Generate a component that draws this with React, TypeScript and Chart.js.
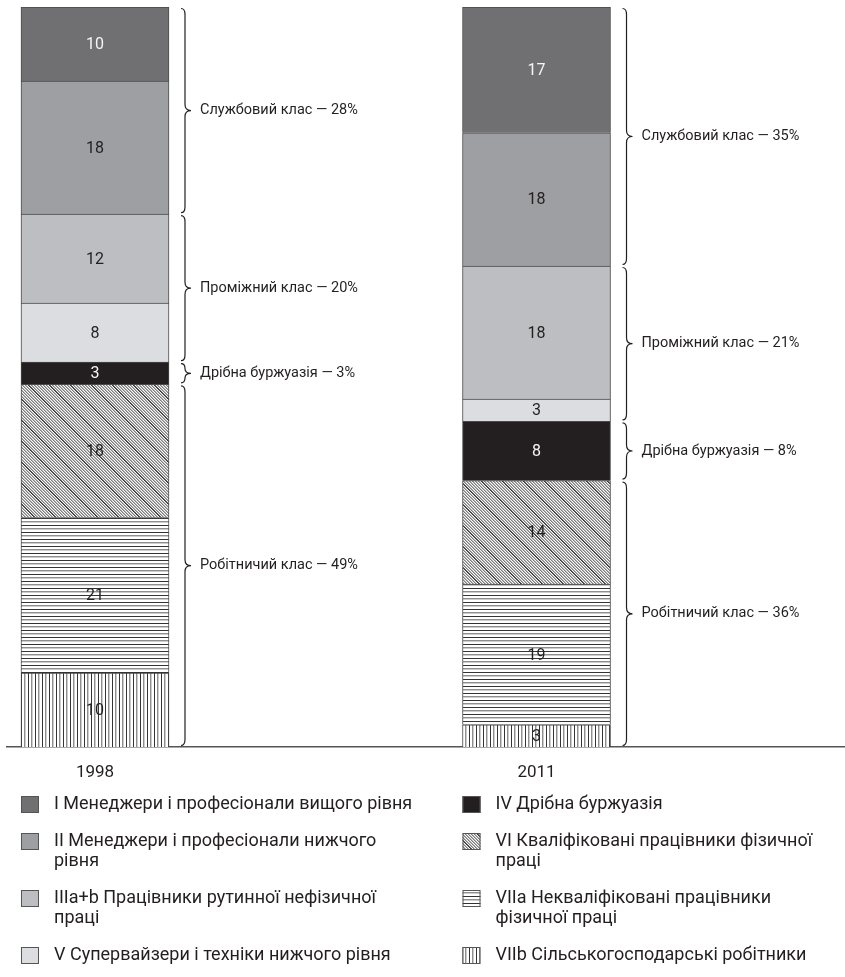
import React, { useEffect, useRef } from 'react';
import { Chart, registerables } from 'chart.js';

Chart.register(...registerables);

const years = ['1998', '2011'];

const seriesNames = [
  'I Менеджери і професіонали вищого рівня',
  'II Менеджери і професіонали нижчого рівня',
  'IIIa+b Працівники рутинної нефізичної праці',
  'V Супервайзери і техніки нижчого рівня',
  'IV Дрібна буржуазія',
  'VI Кваліфіковані працівники фізичної праці',
  'VIIa Некваліфіковані працівники фізичної праці',
  'VIIb Сільськогосподарські робітники',
];

const legendLines = [
  ['I Менеджери і професіонали вищого рівня'],
  ['II Менеджери і професіонали нижчого', 'рівня'],
  ['IIIa+b Працівники рутинної нефізичної', 'праці'],
  ['V Супервайзери і техніки нижчого рівня'],
  ['IV Дрібна буржуазія'],
  ['VI Кваліфіковані працівники фізичної', 'праці'],
  ['VIIa Некваліфіковані працівники', 'фізичної праці'],
  ['VIIb Сільськогосподарські робітники'],
];

const seriesI = [10, 17];
const seriesII = [18, 18];
const seriesIIIab = [12, 18];
const seriesV = [8, 3];
const seriesIV = [3, 8];
const seriesVI = [18, 14];
const seriesVIIa = [21, 19];
const seriesVIIb = [10, 3];

const classNames = ['Службовий клас', 'Проміжний клас', 'Дрібна буржуазія', 'Робітничий клас'];
const seriesClass = [0, 0, 1, 1, 2, 3, 3, 3];

const seriesFillKinds = ['#707073', '#9e9fa2', '#bdbec1', '#dcdde0', '#231f20', 'diag', 'horiz', 'vert'];
const seriesTextColors = ['#f4f4f4', '#231f20', '#231f20', '#231f20', '#f4f4f4', '#231f20', '#231f20', '#231f20'];

const FONT = 'Roboto, "Noto Sans", sans-serif';
const INK = '#231f20';

function makePattern(kind: string): CanvasPattern | string {
  const c = document.createElement('canvas');
  if (kind === 'horiz' || kind === 'vert') {
    const period = 7;
    c.width = kind === 'horiz' ? 4 : period;
    c.height = kind === 'horiz' ? period : 4;
    const g = c.getContext('2d')!;
    g.fillStyle = '#ffffff';
    g.fillRect(0, 0, c.width, c.height);
    const bands: [number, string][] = [[0, '#333333'], [3, '#8f8f8f'], [4, '#cccccc']];
    bands.forEach(([p, col]) => {
      g.fillStyle = col;
      if (kind === 'horiz') g.fillRect(0, p, c.width, 1);
      else g.fillRect(p, 0, 1, c.height);
    });
    return g.createPattern(c, 'repeat')!;
  }
  // diagonal "\" hatch
  const T = 21;
  c.width = T;
  c.height = T;
  const g = c.getContext('2d')!;
  const img = g.createImageData(T, T);
  for (let y = 0; y < T; y++) {
    for (let x = 0; x < T; x++) {
      const d = (((x - y) % T) + T) % T;
      let v = 250;
      if (d === 0) v = 55;
      else if (d === 1) v = 105;
      else if (d % 3 === 0) v = 125;
      else if (d % 3 === 1) v = 180;
      const k = (y * T + x) * 4;
      img.data[k] = v;
      img.data[k + 1] = v;
      img.data[k + 2] = v;
      img.data[k + 3] = 255;
    }
  }
  g.putImageData(img, 0, 0);
  return g.createPattern(c, 'repeat')!;
}

function drawBrace(ctx: CanvasRenderingContext2D, x: number, y1: number, y2: number) {
  const ym = (y1 + y2) / 2;
  const r = Math.min(6, (y2 - y1) / 4);
  ctx.beginPath();
  ctx.moveTo(x - 4, y1);
  ctx.quadraticCurveTo(x, y1, x, y1 + r);
  ctx.lineTo(x, ym - r);
  ctx.quadraticCurveTo(x, ym, x + 6, ym);
  ctx.quadraticCurveTo(x, ym, x, ym + r);
  ctx.lineTo(x, y2 - r);
  ctx.quadraticCurveTo(x, y2, x - 4, y2);
  ctx.stroke();
}

export default function App() {
  const ref = useRef<HTMLCanvasElement>(null);

  useEffect(() => {
    const canvas = ref.current!;
    const seriesValues = [seriesI, seriesII, seriesIIIab, seriesV, seriesIV, seriesVI, seriesVIIa, seriesVIIb];
    const N = seriesValues.length;
    const fills = seriesFillKinds.map((k) => (k.startsWith('#') ? k : makePattern(k)));

    const datasets = seriesValues
      .map((vals, i) => ({
        label: seriesNames[i],
        data: vals.map((v, j) => ({ x: j, y: v })),
        backgroundColor: fills[i] as any,
        borderColor: '#4a4a4a',
        borderWidth: { top: 1, left: 1, right: 1, bottom: 0 },
        borderSkipped: false as any,
        barThickness: 148,
      }))
      .reverse();

    const seriesOf = (d: number) => N - 1 - d;

    const barRect = (chart: any, s: number, j: number) => {
      const el = chart.getDatasetMeta(N - 1 - s).data[j] as any;
      return el.getProps(['x', 'y', 'base', 'width'], true);
    };

    const overlay = {
      id: 'overlay',
      afterDatasetsDraw(chart: any) {
        const ctx = chart.ctx as CanvasRenderingContext2D;
        ctx.save();
        ctx.font = `16px ${FONT}`;
        ctx.textAlign = 'center';
        ctx.textBaseline = 'middle';
        for (let d = 0; d < N; d++) {
          const s = seriesOf(d);
          years.forEach((_, j) => {
            const p = barRect(chart, s, j);
            ctx.fillStyle = seriesTextColors[s];
            ctx.fillText(String(seriesValues[s][j]), p.x, (p.y + p.base) / 2 + 1);
          });
        }
        ctx.restore();
      },
      afterDraw(chart: any) {
        const ctx = chart.ctx as CanvasRenderingContext2D;
        ctx.save();
        years.forEach((_, j) => {
          classNames.forEach((name, c) => {
            const members = seriesClass.map((k, s) => (k === c ? s : -1)).filter((s) => s >= 0);
            let top = Infinity;
            let bottom = -Infinity;
            let sum = 0;
            let right = 0;
            members.forEach((s) => {
              const p = barRect(chart, s, j);
              top = Math.min(top, p.y);
              bottom = Math.max(bottom, p.base);
              right = p.x + p.width / 2;
              sum += seriesValues[s][j];
            });
            const bx = right + 16;
            ctx.strokeStyle = INK;
            ctx.lineWidth = 1.2;
            drawBrace(ctx, bx, top + 1.5, bottom - 1.5);
            ctx.fillStyle = INK;
            ctx.font = `14.5px ${FONT}`;
            ctx.textAlign = 'left';
            ctx.textBaseline = 'middle';
            ctx.fillText(`${name} — ${sum}%`, bx + 15, (top + bottom) / 2);
          });
        });

        const area = chart.chartArea;
        const perCol = Math.ceil(N / years.length);
        for (let col = 0; col < years.length; col++) {
          const p0 = barRect(chart, 0, col);
          const sx = p0.x - p0.width / 2;
          let yy = area.bottom + 57;
          for (let r = 0; r < perCol; r++) {
            const s = col * perCol + r;
            if (s >= N) break;
            ctx.fillStyle = fills[s] as any;
            ctx.fillRect(sx, yy - 8, 18, 17);
            ctx.strokeStyle = '#555555';
            ctx.lineWidth = 1;
            ctx.strokeRect(sx + 0.5, yy - 7.5, 17, 16);
            ctx.fillStyle = INK;
            ctx.font = `18px ${FONT}`;
            ctx.textAlign = 'left';
            ctx.textBaseline = 'middle';
            legendLines[s].forEach((line, li) => {
              ctx.fillText(line, sx + 33, yy + li * 20);
            });
            yy += 37 + (legendLines[s].length - 1) * 20;
          }
        }
        ctx.restore();
      },
    };

    const chart = new Chart(canvas, {
      type: 'bar',
      data: { datasets: datasets as any },
      options: {
        animation: false,
        responsive: false,
        maintainAspectRatio: false,
        events: [],
        layout: { padding: { top: 7, left: 7, right: 0, bottom: 190 } },
        plugins: { legend: { display: false }, tooltip: { enabled: false } },
        scales: {
          x: {
            type: 'linear',
            stacked: true,
            offset: false,
            min: -0.1993,
            max: 1.6987,
            grid: { display: false, drawTicks: false, offset: false },
            border: { display: true, color: '#555555', width: 1.5 },
            ticks: {
              padding: 16,
              color: INK,
              font: { family: FONT, size: 17 },
              callback: (v: any) => years[v as number] ?? '',
            },
            afterBuildTicks: (s: any) => {
              s.ticks = years.map((_, i) => ({ value: i }));
            },
            afterFit: (s: any) => {
              s.height = 40;
            },
          } as any,
          y: { display: false, stacked: true, min: 0, max: 100 },
        },
      },
      plugins: [overlay],
    });
    return () => chart.destroy();
  }, []);

  return (
    <div style={{ position: 'absolute', left: 0, top: 0, width: 845, height: 977, background: '#fff' }}>
      <canvas ref={ref} width={845} height={977} style={{ display: 'block' }} />
    </div>
  );
}
